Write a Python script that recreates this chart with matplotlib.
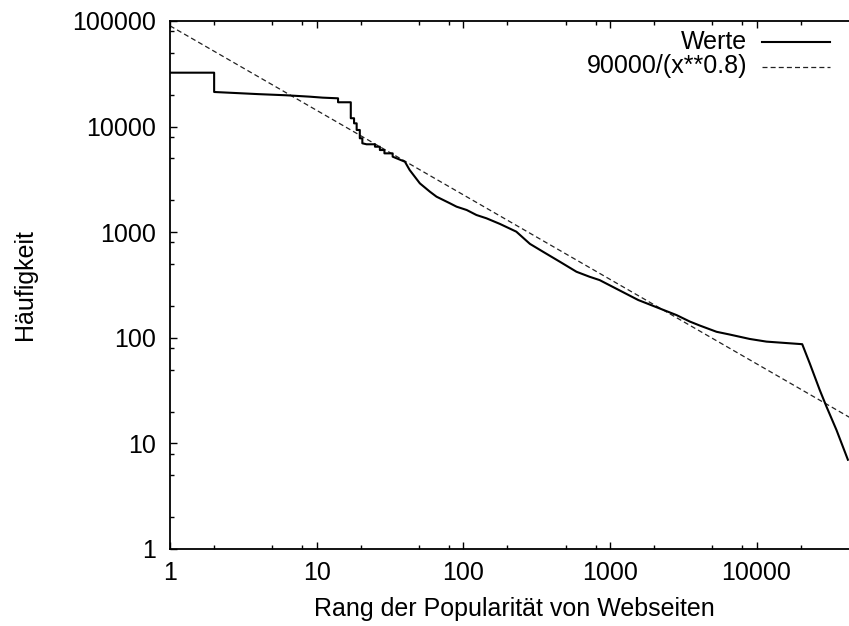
import matplotlib
matplotlib.use("Agg")
import matplotlib.pyplot as plt
from matplotlib.lines import Line2D
from matplotlib.ticker import LogLocator, FuncFormatter, NullFormatter, FixedLocator
import numpy as np

plt.rcParams['font.family'] = ['Liberation Sans', 'DejaVu Sans']

# Observed page-request frequency by popularity rank
rank = [1, 2, 2, 3, 4, 6.2, 9, 11, 14, 14, 17.1, 17.1, 18, 18, 18.75, 18.75,
        19.7, 19.7, 20.5, 20.5, 21.9, 25, 25, 27, 27, 29, 29, 33, 33, 40,
        43.1, 50.6, 59.2, 65.7, 81, 90, 105.6, 123, 144, 178, 230, 285, 350,
        455, 592, 725, 851, 1560, 2850, 3505, 4100, 5340, 6560, 8990, 11700,
        20500, 23100, 27000, 30000, 35100, 42000]
count = [32400, 32400, 21270, 20700, 20300, 19800, 19200, 18800, 18530, 17000,
         17000, 12000, 12000, 10740, 10740, 9290, 9290, 7750, 7750, 6950,
         6800, 6800, 6450, 6450, 6000, 6000, 5580, 5580, 5190, 4650,
         3880, 2900, 2420, 2170, 1880, 1745, 1622, 1455, 1354, 1197, 1012, 775,
         653, 526, 422, 379, 352, 228, 164, 142.6, 130.7, 114, 107.4, 97.5, 92,
         87, 57, 32, 22.3, 13.4, 7.0]

# Power-law reference curve: fit_scale / x**fit_exponent
fit_scale = 90000
fit_exponent = 0.8

x_ticks = [1, 10, 100, 1000, 10000]
y_ticks = [1, 10, 100, 1000, 10000, 100000]

W, H = 849, 626
fig = plt.figure(figsize=(W / 100, H / 100), dpi=100)
ax = fig.add_axes([170 / W, 77 / H, 689 / W, 528 / H])

xf = np.logspace(0, np.log10(50000), 400)
ax.plot(xf, fit_scale / xf ** fit_exponent, color='#222222', lw=0.9,
        dashes=(4, 2.5))
ax.plot(rank, count, color='black', lw=1.5)

ax.set_xscale('log')
ax.set_yscale('log')
ax.set_xlim(1, 50000)
ax.set_ylim(1, 100000)

ax.xaxis.set_major_locator(FixedLocator(x_ticks))
ax.yaxis.set_major_locator(FixedLocator(y_ticks))
ax.xaxis.set_minor_locator(LogLocator(base=10, subs=(2, 5, 8), numticks=20))
ax.yaxis.set_minor_locator(LogLocator(base=10, subs=(2, 5, 8), numticks=20))
fmt = FuncFormatter(lambda v, _: f"{v:g}")
ax.xaxis.set_major_formatter(fmt)
ax.yaxis.set_major_formatter(fmt)
ax.xaxis.set_minor_formatter(NullFormatter())
ax.yaxis.set_minor_formatter(NullFormatter())

ax.tick_params(which='both', direction='in', top=True, right=True,
               labelsize=18, width=1.0, color='black')
ax.tick_params(which='major', length=5)
ax.tick_params(which='minor', length=3)
ax.tick_params(axis='x', which='major', pad=9)
ax.tick_params(axis='y', which='major', pad=10)
for sp in ax.spines.values():
    sp.set_linewidth(1.3)

ax.set_xlabel('Rang der Popularität von Webseiten', fontsize=18, labelpad=8)
ax.set_ylabel('Häufigkeit', fontsize=18)
ax.yaxis.set_label_coords((37 - 170) / 689, 0.5)

# Key: right-aligned labels followed by line samples
key_rows = [('Werte', 42, dict(color='black', lw=1.5)),
            ('90000/(x**0.8)', 66.5, dict(color='#222222', lw=0.9, dashes=(4, 2.5)))]
for label, ypx, style in key_rows:
    fig.text(747 / W, 1 - ypx / H, label, ha='right', va='center', fontsize=18)
    fig.add_artist(Line2D([762 / W, 830 / W], [1 - ypx / H, 1 - ypx / H],
                          transform=fig.transFigure, **style))

fig.savefig('out.png', dpi=100)
